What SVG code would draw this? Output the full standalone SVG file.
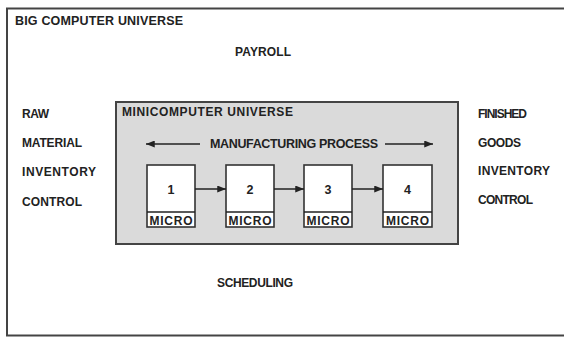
<svg xmlns="http://www.w3.org/2000/svg" width="564" height="337" viewBox="0 0 564 337">
<style>
text{font-family:"Liberation Sans",Arial,sans-serif;font-weight:bold;fill:#222}
.t11{font-size:12px}
.t12{font-size:12.5px}
.box{fill:#fff;stroke:#333;stroke-width:1.6}
.ln{stroke:#222;stroke-width:1.5;fill:none}
.mid{text-anchor:middle}
</style>
<defs>
<marker id="ah" viewBox="0 0 10 8" refX="10" refY="4" markerWidth="9" markerHeight="7" markerUnits="userSpaceOnUse" orient="auto">
<path d="M0,0 L10,4 L0,8 Z" fill="#222"/>
</marker>
</defs>
<rect width="564" height="337" fill="#fff"/>
<g id="big-universe">
<rect x="7" y="8.5" width="620" height="327" fill="none" stroke="#444" stroke-width="2"/>
<text class="t12" x="15" y="25" textLength="168" lengthAdjust="spacing">BIG COMPUTER UNIVERSE</text>
<text class="t11" x="235" y="56" textLength="56" lengthAdjust="spacing">PAYROLL</text>
<text class="t11" x="217" y="287" textLength="76" lengthAdjust="spacing">SCHEDULING</text>
</g>
<g id="raw-material">
<text class="t11" x="22" y="118" textLength="27" lengthAdjust="spacing">RAW</text>
<text class="t11" x="22" y="147" textLength="60" lengthAdjust="spacing">MATERIAL</text>
<text class="t11" x="22" y="176" textLength="74" lengthAdjust="spacing">INVENTORY</text>
<text class="t11" x="22" y="206" textLength="60" lengthAdjust="spacing">CONTROL</text>
</g>
<g id="finished-goods">
<text class="t11" x="478" y="118" textLength="49" lengthAdjust="spacing">FINISHED</text>
<text class="t11" x="478" y="147" textLength="43" lengthAdjust="spacing">GOODS</text>
<text class="t11" x="478" y="175" textLength="72" lengthAdjust="spacing">INVENTORY</text>
<text class="t11" x="478" y="204" textLength="55" lengthAdjust="spacing">CONTROL</text>
</g>
<g id="mini-universe">
<rect x="116" y="102" width="342" height="142" fill="#dadada" stroke="#444" stroke-width="2"/>
<text class="t11" x="122" y="116" textLength="171" lengthAdjust="spacing">MINICOMPUTER UNIVERSE</text>
<text class="t12" x="210" y="148" textLength="168" lengthAdjust="spacing">MANUFACTURING PROCESS</text>
</g>
<g id="micro1">
<rect class="box" x="147" y="165" width="48" height="62"/>
<line class="ln" x1="147" y1="212" x2="195" y2="212"/>
<text class="t12 mid" x="171" y="194">1</text>
<text class="t11 mid" x="171" y="225" textLength="43" lengthAdjust="spacing">MICRO</text>
</g>
<g id="micro2">
<rect class="box" x="226" y="165" width="48" height="62"/>
<line class="ln" x1="226" y1="212" x2="274" y2="212"/>
<text class="t12 mid" x="250" y="194">2</text>
<text class="t11 mid" x="250" y="225" textLength="43" lengthAdjust="spacing">MICRO</text>
</g>
<g id="micro3">
<rect class="box" x="304" y="165" width="48" height="62"/>
<line class="ln" x1="304" y1="212" x2="352" y2="212"/>
<text class="t12 mid" x="328" y="194">3</text>
<text class="t11 mid" x="328" y="225" textLength="43" lengthAdjust="spacing">MICRO</text>
</g>
<g id="micro4">
<rect class="box" x="383" y="165" width="49" height="62"/>
<line class="ln" x1="383" y1="212" x2="432" y2="212"/>
<text class="t12 mid" x="407.5" y="194">4</text>
<text class="t11 mid" x="407.5" y="225" textLength="43" lengthAdjust="spacing">MICRO</text>
</g>
<g id="connectors">
<line class="ln" x1="200" y1="144" x2="146" y2="144" marker-end="url(#ah)"/>
<line class="ln" x1="385" y1="144" x2="433" y2="144" marker-end="url(#ah)"/>
<line class="ln" x1="195" y1="189" x2="226" y2="189" marker-end="url(#ah)"/>
<line class="ln" x1="274" y1="189" x2="304" y2="189" marker-end="url(#ah)"/>
<line class="ln" x1="352" y1="189" x2="383" y2="189" marker-end="url(#ah)"/>
</g>
</svg>
